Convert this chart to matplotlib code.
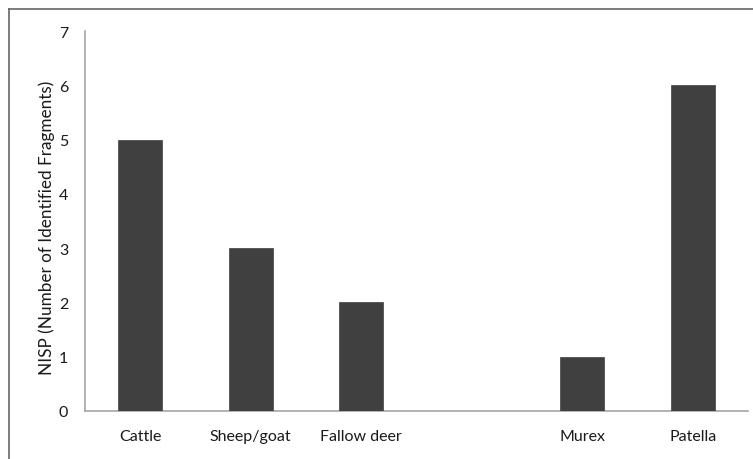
import matplotlib
matplotlib.use("Agg")
import matplotlib.pyplot as plt
from matplotlib.lines import Line2D

categories = ["Cattle", "Sheep/goat", "Fallow deer", "", "Murex", "Patella"]
values = [5, 3, 2, 0, 1, 6]
yticks = [0, 1, 2, 3, 4, 5, 6, 7]

plt.rcParams['font.family'] = ['Lato', 'DejaVu Sans']

fig = plt.figure(figsize=(7.53, 4.60), dpi=100)
ax = fig.add_axes([85/753, 48/460, (748-85)/753, (412-32)/460])

x = list(range(len(categories)))
ax.bar(x, values, width=0.4, color="#404040", edgecolor="#404040", linewidth=0.5, zorder=3)

ax.set_xlim(-0.5, len(categories) - 0.5)
ax.set_ylim(0, 7)
ax.set_yticks(yticks)
ax.set_xticks(x)
ax.set_xticklabels(categories)
ax.tick_params(axis='both', length=0, labelsize=11.5, colors="#1a1a1a")
ax.tick_params(axis='y', pad=12)
ax.tick_params(axis='x', pad=13)

for s in ["top", "right"]:
    ax.spines[s].set_visible(False)
for s in ["left", "bottom"]:
    ax.spines[s].set_color("#a6a6a6")
    ax.spines[s].set_linewidth(1.2)

ax.set_ylabel("NISP (Number of Identified Fragments)", fontsize=12.3, color="#1a1a1a")
ax.yaxis.set_label_coords(-0.046, 0.485)

# figure border (top and left visible)
fig.add_artist(Line2D([9/753, 1.0], [1 - 10/460, 1 - 10/460], transform=fig.transFigure, color="#666666", linewidth=1.2))
fig.add_artist(Line2D([9/753, 9/753], [0.0, 1 - 10/460], transform=fig.transFigure, color="#666666", linewidth=1.2))

fig.savefig("out.png", dpi=100)
